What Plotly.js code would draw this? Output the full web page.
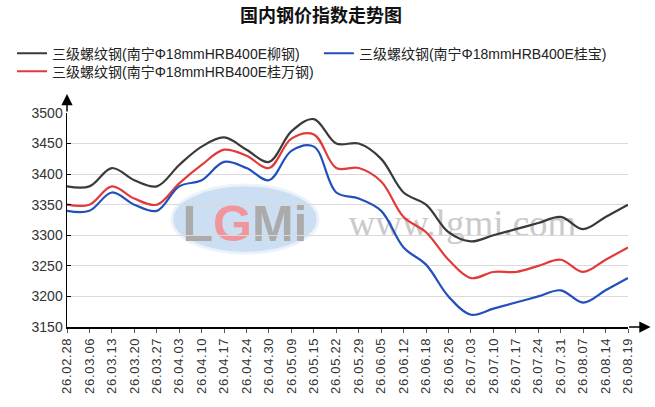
<!DOCTYPE html>
<html>
<head>
<meta charset="utf-8">
<script src="https://cdn.plot.ly/plotly-3.0.1.min.js"></script>
<style>
html,body{margin:0;padding:0;background:#fff;}
#chart{width:655px;height:407px;}
.xtick text{letter-spacing:0.7px;}
</style>
</head>
<body>
<div id="chart"></div>
<script>
const dates = ["26.02.28","26.03.06","26.03.13","26.03.20","26.03.27","26.04.03","26.04.10","26.04.17","26.04.24","26.04.30","26.05.09","26.05.15","26.05.22","26.05.29","26.06.05","26.06.12","26.06.18","26.06.26","26.07.03","26.07.10","26.07.17","26.07.24","26.07.31","26.08.07","26.08.14","26.08.19"];
const liugang = [3380,3380,3410,3390,3380,3415,3445,3460,3440,3420,3470,3490,3450,3450,3425,3370,3350,3305,3290,3300,3310,3320,3330,3310,3330,3350];
const guiwan = [3350,3350,3380,3360,3350,3385,3415,3440,3430,3410,3458,3465,3410,3410,3388,3330,3305,3260,3230,3240,3240,3250,3260,3240,3260,3280];
const guibao = [3340,3340,3370,3350,3340,3380,3390,3420,3410,3390,3438,3445,3370,3360,3340,3280,3252,3200,3170,3180,3190,3200,3210,3190,3210,3230];
const names = ["三级螺纹钢(南宁Φ18mmHRB400E柳钢)","三级螺纹钢(南宁Φ18mmHRB400E桂万钢)","三级螺纹钢(南宁Φ18mmHRB400E桂宝)"];
const colors = ["#3a3a3a","#e23a3a","#2150bd"];
const yTicks = [3150,3200,3250,3300,3350,3400,3450,3500];

const FONT = "'Liberation Sans', Arial, 'Noto Sans CJK SC', sans-serif";
const series = [liugang, guiwan, guibao];
const legendIds = ["legend", "legend3", "legend2"];
const traces = series.map((s, k) => ({
  type: "scatter", mode: "lines", x: dates, y: s, name: names[k],
  line: {color: colors[k], width: 2.2, shape: "spline", smoothing: 1},
  legend: legendIds[k], hoverinfo: "skip"
}));

const legendBase = {orientation: "v", xanchor: "left", yanchor: "top",
  font: {family: FONT, size: 14, color: "#222"}, itemwidth: 30, bgcolor: "rgba(0,0,0,0)", borderwidth: 0};

const layout = {
  width: 655, height: 407,
  margin: {l: 56, r: 27, t: 113, b: 80, pad: 0},
  paper_bgcolor: "#fff", plot_bgcolor: "#fff",
  font: {family: FONT, color: "#333", size: 13},
  title: {text: "国内钢价指数走势图", x: 0.49, xref: "container", y: 0.962, yref: "container", yanchor: "middle", xanchor: "center",
          font: {family: "'Noto Sans CJK SC', sans-serif", size: 18, weight: 700, color: "#111"}},
  showlegend: true,
  legend: Object.assign({}, legendBase, {x: -0.098, y: 1.352}),
  legend2: Object.assign({}, legendBase, {x: 0.449, y: 1.352}),
  legend3: Object.assign({}, legendBase, {x: -0.098, y: 1.268}),
  xaxis: {type: "category", range: [0, 25], showgrid: false, zeroline: false,
          showline: true, linecolor: "#000", linewidth: 1.5,
          ticks: "outside", ticklen: 4, tickcolor: "#555", tickwidth: 1,
          tickangle: -90, tickfont: {family: FONT, size: 13, color: "#333"}, fixedrange: true},
  yaxis: {range: [3150, 3500], tickvals: yTicks, ticktext: yTicks.map(String),
          showgrid: true, gridcolor: "#dadada", gridwidth: 1, zeroline: false,
          showline: true, linecolor: "#000", linewidth: 1.5,
          ticks: "inside", ticklen: 4, tickcolor: "#000", tickwidth: 1,
          tickfont: {family: FONT, size: 14, color: "#333"}, fixedrange: true},
  shapes: [
    {type: "circle", xref: "paper", yref: "paper", x0: 0.187, x1: 0.4476, y0: 0.345, y1: 0.663,
     fillcolor: "rgba(160,195,232,0.55)", line: {color: "rgba(235,242,250,0.9)", width: 3}, layer: "below",
     label: {text: "<b>L<span style=\"color:#f0959c\">G</span>Mi</b>", textposition: "middle center",
             font: {family: "'Liberation Sans', Arial, sans-serif", size: 50, color: "#ababab"}}},
    {type: "rect", xref: "paper", yref: "paper", x0: 0.523, x1: 0.887, y0: 0.438, y1: 0.569,
     fillcolor: "rgba(0,0,0,0)", line: {width: 0}, layer: "below",
     label: {text: "www.lgmi.com", textposition: "middle center",
             font: {family: "'Liberation Serif', 'Times New Roman', serif", size: 37, color: "#cacaca"}}}
  ],
  annotations: [
    {xref: "paper", yref: "paper", x: 1.0402, y: 0, ax: -23, ay: 0, text: "", showarrow: true,
     arrowhead: 2, arrowsize: 1.5, arrowwidth: 1.5, arrowcolor: "#000", standoff: 0, startstandoff: 0},
    {xref: "paper", yref: "paper", x: 0, y: 1.089, ax: 0, ay: 19, text: "", showarrow: true,
     arrowhead: 2, arrowsize: 1.5, arrowwidth: 1.5, arrowcolor: "#000", standoff: 0, startstandoff: 0}
  ]
};

Plotly.newPlot("chart", traces, layout, {staticPlot: true, displayModeBar: false});
</script>
</body>
</html>
